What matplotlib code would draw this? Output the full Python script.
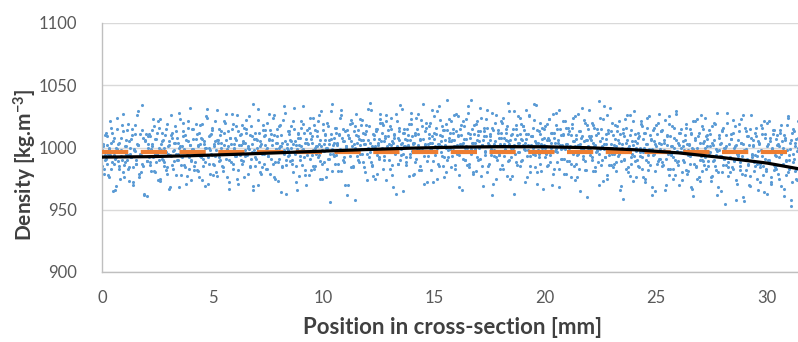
import numpy as np
import matplotlib
matplotlib.use("Agg")
import matplotlib.pyplot as plt

# Density profiles (kg/m^3) from three scan lines across the section,
# each sampled at the same fixed pitch from edge to edge
density_scan_a = [
    998, 1001, 983, 990, 1009, 995, 976, 994, 1004, 1012, 987, 991, 969, 999, 1003, 985, 993, 1018, 980, 996,
    988, 1006, 994, 973, 1000, 992, 1015, 984, 997, 990, 1026, 1002, 979, 995, 987, 1008, 963, 996, 1011, 989,
    1003, 986, 999, 1014, 992, 981, 1007, 995, 1021, 990, 975, 998, 1005, 988, 1010, 996, 984, 1001, 967, 993,
    1012, 997, 989, 1004, 978, 995, 1000, 1023, 986, 992, 1009, 999, 971, 994, 1016, 983, 1002, 990, 1007, 985,
    995, 1019, 982, 1001, 993, 1008, 974, 997, 1003, 988, 1031, 992, 1000, 979, 1011, 994, 986, 1005, 998, 977,
    1006, 989, 1013, 996, 984, 1002, 1020, 991, 999, 972, 1008, 995, 1015, 987, 1003, 993, 1026, 982, 997, 1010,
    990, 1004, 976, 998, 1012, 994, 1001, 985, 1017, 996, 969, 1007, 992, 1000, 1022, 988, 1005, 979, 995, 1009,
    1014, 983, 1000, 993, 1027, 997, 1006, 987, 1010, 975, 999, 1004, 991, 1018, 1001, 984, 996, 1033, 990, 1003,
    998, 1011, 989, 1005, 980, 1015, 995, 1002, 966, 1008, 993, 1021, 986, 999, 1012, 978, 1004, 997, 1016, 991,
    1007, 994, 1024, 985, 1001, 1013, 992, 1003, 975, 998, 1019, 988, 1010, 1000, 983, 1006, 995, 1029, 981, 1002,
    993, 1016, 1004, 987, 1011, 999, 1026, 990, 1005, 970, 1001, 1014, 996, 1008, 984, 1020, 997, 1003, 958, 1010,
    1009, 988, 1002, 1018, 995, 1006, 980, 1013, 999, 1031, 992, 1004, 986, 1011, 1000, 975, 1015, 994, 1007, 1023,
    996, 1012, 983, 1005, 1021, 998, 1009, 990, 1017, 1002, 978, 1008, 995, 1027, 1001, 987, 1013, 999, 1004, 965,
    1015, 1001, 992, 1010, 977, 1006, 1019, 997, 1003, 988, 1024, 1000, 1011, 982, 1007, 996, 1035, 993, 1002, 1016,
    989, 1008, 1020, 999, 1004, 972, 1012, 996, 1029, 1003, 985, 1010, 1001, 1017, 992, 1006, 980, 1014, 998, 1023,
    1005, 993, 1012, 1026, 986, 1001, 1009, 978, 1015, 997, 1003, 1021, 990, 1007, 1000, 1033, 984, 1011, 995, 1004,
    1018, 998, 981, 1006, 1013, 991, 1024, 1002, 969, 1009, 996, 1016, 1004, 987, 1011, 999, 1028, 993, 1005, 975,
    1001, 1014, 994, 1008, 1020, 983, 1003, 997, 1012, 1036, 990, 1006, 1000, 977, 1015, 1002, 988, 1010, 1025, 996,
    985, 1007, 1017, 999, 1004, 1030, 993, 1011, 980, 1002, 1009, 995, 1022, 1005, 971, 998, 1013, 987, 1003, 1016,
    1008, 992, 1001, 1019, 986, 1006, 1012, 997, 1027, 983, 1004, 999, 1015, 968, 1002, 1010, 991, 1021, 1000, 979,
    1003, 1016, 989, 997, 1010, 1024, 985, 1001, 1007, 976, 995, 1013, 1000, 1032, 991, 1005, 982, 1018, 998, 1009,
    994, 1006, 1020, 981, 1002, 996, 1015, 988, 1037, 999, 1008, 973, 1003, 992, 1011, 1026, 986, 1000, 1013, 995,
    1010, 987, 1001, 1017, 993, 1004, 966, 998, 1012, 990, 1023, 983, 1006, 1000, 977, 1014, 995, 1002, 1029, 989,
    1000, 1012, 984, 996, 1021, 992, 1007, 975, 1003, 1016, 988, 999, 1010, 962, 994, 1005, 981, 1018, 997, 1027,
    991, 1003, 1014, 986, 998, 970, 1009, 995, 1025, 983, 1001, 992, 1016, 978, 1006, 997, 989, 1012, 1000, 974,
    1005, 988, 997, 1019, 981, 1002, 993, 1011, 967, 999, 1008, 985, 1023, 995, 976, 1004, 990, 1015, 986, 1000,
    983, 1010, 996, 1001, 973, 1017, 989, 1006, 994, 1028, 980, 998, 1003, 965, 1013, 991, 1000, 986, 1020, 977,
    997, 1007, 984, 1012, 990, 1001, 958, 995, 1019, 982, 1004, 993, 1026, 978, 999, 1009, 987, 970, 1015, 992,
    1002, 981, 994, 1016, 987, 1005, 972, 998, 1011, 985, 1021, 991, 963, 1003, 989, 1008, 976, 1000, 1014, 984,
    993, 1010, 979, 1001, 1018, 986, 996, 967, 1006, 990, 1024, 983, 999, 953, 1012, 988, 1004, 975, 997, 1008,
]
density_scan_b = [
    985, 996, 1010, 991, 1002, 978, 999, 1016, 988, 1005, 994, 966, 1000, 1024, 983, 997, 1008, 990, 1013, 976,
    1001, 990, 1019, 984, 995, 1007, 972, 998, 1011, 987, 1003, 1029, 993, 980, 1014, 996, 962, 1005, 989, 1000,
    992, 1009, 981, 1003, 1017, 995, 988, 1012, 974, 1000, 1023, 991, 1006, 985, 997, 1015, 979, 1002, 994, 1026,
    1008, 983, 998, 1013, 990, 1004, 968, 1001, 993, 1020, 986, 1010, 997, 977, 1005, 1032, 989, 999, 1015, 982,
    996, 1011, 1002, 976, 1018, 992, 1007, 985, 1000, 1025, 994, 971, 1009, 998, 1014, 987, 1003, 1021, 980, 1006,
    1015, 990, 1004, 997, 981, 1012, 1027, 995, 1001, 967, 1008, 988, 1019, 1000, 993, 1006, 975, 1013, 997, 1002,
    987, 1005, 1016, 993, 1022, 979, 999, 1010, 991, 1003, 1035, 985, 1007, 996, 970, 1012, 1001, 984, 1018, 995,
    1010, 998, 983, 1006, 1014, 991, 1002, 1024, 976, 999, 1009, 988, 1017, 1001, 964, 1004, 995, 1028, 986, 1000,
    993, 1013, 1000, 987, 1021, 996, 1005, 972, 1011, 1002, 990, 1016, 998, 1033, 982, 1007, 994, 1003, 978, 1012,
    1004, 985, 1018, 1000, 995, 1009, 1026, 989, 1001, 975, 1014, 997, 1006, 1020, 991, 1003, 956, 1011, 999, 1008,
    1016, 994, 1002, 981, 1010, 1030, 996, 1005, 988, 1013, 1000, 970, 1008, 993, 1022, 1001, 985, 1017, 997, 1004,
    990, 1007, 1023, 999, 1012, 984, 1003, 1018, 995, 1006, 1036, 988, 1001, 977, 1010, 996, 1015, 1002, 991, 1027,
    1005, 1020, 993, 1009, 974, 1001, 1014, 997, 1024, 986, 1004, 1011, 999, 963, 1008, 1016, 990, 1003, 1031, 995,
    1012, 988, 1006, 1001, 1019, 992, 1028, 1004, 979, 1010, 997, 1015, 1002, 985, 1022, 1000, 1007, 971, 1013, 996,
    1003, 1017, 998, 982, 1009, 1025, 994, 1011, 1000, 987, 1033, 1005, 993, 1014, 976, 1002, 1019, 990, 1008, 999,
    984, 1006, 1015, 1001, 1027, 995, 1010, 968, 1003, 1018, 991, 1007, 1000, 1023, 986, 1012, 997, 1038, 1004, 980,
    1011, 999, 1021, 990, 1005, 1013, 977, 1002, 1016, 994, 1009, 1030, 985, 1001, 1006, 962, 1014, 998, 1020, 992,
    997, 1008, 983, 1012, 1001, 1024, 993, 1006, 1017, 989, 1003, 975, 1010, 1000, 1029, 995, 1015, 986, 1004, 1011,
    1019, 990, 1002, 1014, 972, 1007, 998, 1026, 985, 1009, 1001, 1016, 994, 1034, 980, 1004, 992, 1011, 1000, 967,
    1002, 1017, 995, 1006, 1023, 988, 1000, 1012, 979, 1008, 1028, 996, 1004, 983, 1015, 999, 1010, 991, 1021, 1003,
    989, 1011, 1000, 976, 1016, 995, 1005, 1025, 987, 1002, 1013, 965, 998, 1009, 993, 1020, 982, 1006, 1001, 1030,
    1008, 992, 1018, 1001, 984, 1010, 997, 970, 1005, 1015, 990, 1023, 999, 1003, 978, 1012, 994, 1032, 986, 1000,
    995, 1007, 981, 1013, 998, 1021, 989, 1003, 959, 1009, 996, 1016, 984, 1001, 1026, 992, 1005, 973, 1011, 997,
    1004, 985, 1009, 993, 1017, 976, 1000, 1012, 990, 1024, 982, 998, 1006, 968, 1014, 995, 1003, 987, 1020, 991,
    999, 1013, 988, 1004, 966, 997, 1010, 983, 1019, 994, 1001, 975, 1008, 990, 1027, 986, 1002, 996, 1015, 980,
    990, 1006, 1016, 979, 998, 1003, 987, 1012, 961, 995, 1021, 984, 1000, 1009, 973, 993, 1017, 989, 1005, 1024,
    1001, 985, 994, 1011, 976, 1004, 990, 1019, 982, 997, 968, 1008, 993, 1014, 986, 1000, 955, 1010, 988, 1003,
    980, 1007, 996, 1022, 989, 1002, 971, 993, 1013, 985, 1004, 960, 998, 1016, 982, 991, 1009, 977, 1026, 995,
    1006, 988, 1012, 975, 997, 1003, 984, 1018, 993, 964, 1008, 981, 1001, 990, 1021, 972, 999, 1011, 986, 994,
    983, 1002, 992, 1014, 969, 1005, 987, 1010, 978, 998, 1025, 990, 1004, 958, 995, 1013, 981, 1007, 974, 1000,
]
density_scan_c = [
    1003, 979, 994, 1012, 987, 1000, 1021, 983, 997, 965, 1008, 992, 1015, 989, 1004, 975, 998, 1027, 986, 1001,
    995, 1014, 983, 1005, 992, 1010, 970, 999, 1018, 987, 1002, 976, 1011, 994, 1034, 985, 1006, 997, 961, 1009,
    1011, 988, 1001, 1023, 996, 980, 1007, 993, 1016, 973, 1003, 1012, 990, 1000, 982, 1019, 995, 1005, 968, 1010,
    986, 1004, 1017, 995, 1008, 990, 1028, 978, 1001, 1013, 997, 984, 1006, 1021, 992, 1002, 974, 1015, 999, 988,
    1007, 996, 981, 1012, 1003, 1019, 991, 1005, 969, 1000, 1024, 987, 1010, 995, 1016, 978, 1001, 993, 1030, 1004,
    992, 1010, 1000, 985, 1021, 997, 1006, 976, 1013, 990, 1003, 1027, 983, 999, 1008, 1017, 971, 1002, 994, 1011,
    1018, 989, 1004, 1015, 995, 1000, 1025, 984, 1009, 966, 998, 1012, 991, 1006, 1031, 980, 1003, 997, 1014, 987,
    1002, 1020, 993, 1007, 979, 1011, 996, 1026, 988, 1004, 1015, 973, 1000, 1010, 985, 1022, 998, 1005, 963, 1013,
    994, 1006, 1017, 990, 1003, 1032, 985, 999, 1012, 977, 1008, 1001, 1019, 992, 1004, 970, 1014, 996, 1024, 982,
    1009, 998, 983, 1014, 1001, 1021, 994, 1006, 1029, 987, 1003, 1011, 976, 1000, 1017, 991, 1007, 1035, 995, 1004,
    987, 1012, 1003, 997, 1024, 981, 1008, 1015, 992, 1001, 962, 1010, 996, 1019, 1005, 984, 1013, 1000, 1027, 993,
    1014, 995, 1006, 1022, 988, 1003, 1011, 974, 1000, 1017, 996, 1030, 985, 1007, 1001, 1013, 979, 1004, 992, 1020,
    1000, 1018, 990, 1008, 1026, 997, 1003, 983, 1015, 1005, 968, 1010, 999, 1021, 987, 1006, 1034, 994, 1012, 1001,
    1007, 986, 1015, 1002, 995, 1023, 1009, 978, 1004, 1012, 991, 1027, 1000, 1006, 982, 1017, 997, 1003, 1020, 972,
    993, 1011, 1004, 1030, 989, 1007, 1001, 1016, 975, 1003, 1022, 996, 1009, 985, 1014, 1000, 1038, 992, 1005, 1012,
    1021, 998, 1006, 983, 1013, 1002, 1025, 994, 1010, 966, 1004, 1017, 990, 1001, 1028, 987, 1008, 999, 1015, 979,
    1004, 1019, 992, 1010, 1000, 1032, 985, 1006, 1013, 997, 1023, 980, 1002, 1009, 994, 1016, 971, 1003, 1026, 990,
    1012, 994, 1003, 1021, 986, 1008, 999, 1015, 977, 1005, 1029, 992, 1011, 1001, 963, 1007, 1018, 996, 1004, 1024,
    989, 1006, 1017, 998, 1011, 976, 1002, 1025, 993, 1009, 1000, 1035, 984, 1004, 1014, 995, 1020, 981, 1007, 1001,
    1015, 1000, 985, 1008, 1023, 994, 1004, 970, 1012, 997, 1018, 988, 1006, 1030, 991, 1002, 1011, 979, 999, 1016,
    996, 1013, 1001, 987, 1019, 1005, 974, 1010, 994, 1027, 983, 1003, 1008, 999, 1022, 989, 1006, 960, 1015, 1000,
    1009, 990, 1004, 1016, 981, 998, 1012, 995, 1024, 986, 1001, 1033, 992, 1007, 975, 1014, 997, 1003, 1020, 984,
    1002, 1018, 988, 1006, 995, 1011, 969, 1000, 1015, 991, 1004, 1026, 980, 997, 1010, 987, 1021, 993, 1005, 976,
    990, 1008, 1000, 1019, 983, 996, 1012, 972, 1003, 994, 1025, 986, 1007, 999, 1016, 965, 1001, 1011, 989, 1004,
    1013, 985, 997, 1006, 1022, 991, 1002, 978, 1009, 995, 1017, 983, 1000, 1029, 988, 1004, 970, 1012, 996, 1001,
    998, 1010, 982, 1003, 994, 1015, 968, 1000, 1021, 987, 1006, 975, 997, 1012, 990, 1026, 981, 1004, 992, 1009,
    1007, 989, 1014, 996, 977, 1002, 1020, 985, 999, 962, 1010, 993, 1004, 980, 1016, 991, 1001, 1028, 984, 997,
    992, 1011, 983, 1000, 1017, 974, 995, 1006, 988, 1023, 979, 1003, 957, 998, 1013, 986, 1002, 969, 1008, 994,
    1001, 985, 1009, 993, 966, 1004, 987, 1016, 978, 997, 1011, 983, 1020, 990, 1005, 971, 999, 1014, 982, 1007,
    986, 1003, 975, 1012, 995, 1000, 961, 1008, 989, 1018, 980, 994, 1006, 972, 1015, 991, 1001, 983, 1021, 998,
]
scans = [density_scan_a, density_scan_b, density_scan_c]

scan_width_mm = 31.4

# Overall mean density
mean_density = 996.3

# Polynomial trend of density across the section
trend_x = [0, 2, 4, 6, 8, 10, 12, 14, 16, 18, 20, 22, 24, 26, 28, 30, 31.4]
trend_y = [992.3, 992.6, 993.4, 994.5, 995.8, 997.1, 998.4, 999.5, 1000.3,
           1000.7, 1000.6, 999.8, 998.2, 995.7, 991.9, 987.5, 983.0]

x_ticks = [0, 5, 10, 15, 20, 25, 30]
y_ticks = [900, 950, 1000, 1050, 1100]

plt.rcParams["font.family"] = ["Lato", "DejaVu Sans"]

fig = plt.figure(figsize=(7.98, 3.42), dpi=100)
ax = fig.add_axes([102 / 798, 1 - 272 / 342, 1 - 102 / 798, (272 - 23) / 342])

# Each scan line is sampled at the same pitch; lines are interleaved by a
# fraction of the pitch
for k, scan in enumerate(scans):
    n = len(scan)
    pitch = scan_width_mm / (n - 1)
    pos = np.linspace(0.0, scan_width_mm, n) + k * pitch / len(scans)
    ax.scatter(pos, scan, s=5, color="#5B9BD5", linewidths=0, zorder=2)

mean_line, = ax.plot([0, scan_width_mm], [mean_density, mean_density],
                     color="#ED7D31", lw=3.0, zorder=3)
mean_line.set_dashes((6.3, 3.0))
mean_line.set_dash_capstyle("butt")
ax.plot(trend_x, trend_y, color="black", lw=2.3, zorder=4)

ax.set_xlim(0, scan_width_mm)
ax.set_ylim(900, 1100)
ax.set_xticks(x_ticks)
ax.set_yticks(y_ticks)
ax.tick_params(axis="both", length=0, labelsize=12, labelcolor="#595959")
ax.tick_params(axis="x", pad=13)
ax.tick_params(axis="y", pad=18)

ax.grid(axis="y", color="#D9D9D9", lw=1.0, zorder=0)
ax.set_axisbelow(True)
for side in ("top", "right"):
    ax.spines[side].set_visible(False)
for side in ("left", "bottom"):
    ax.spines[side].set_color("#BFBFBF")
    ax.spines[side].set_linewidth(1.0)

fig.text(453 / 798, 1 - 328 / 342, "Position in cross-section [mm]",
         ha="center", va="center", fontsize=16, fontweight="bold", color="#404040")
fig.text(25 / 798, 1 - 165 / 342, r"Density [kg.m$\mathregular{^{-3}}$]",
         ha="center", va="center", rotation=90, fontsize=15, fontweight="bold",
         color="#404040")

fig.savefig("out.png", dpi=100)
